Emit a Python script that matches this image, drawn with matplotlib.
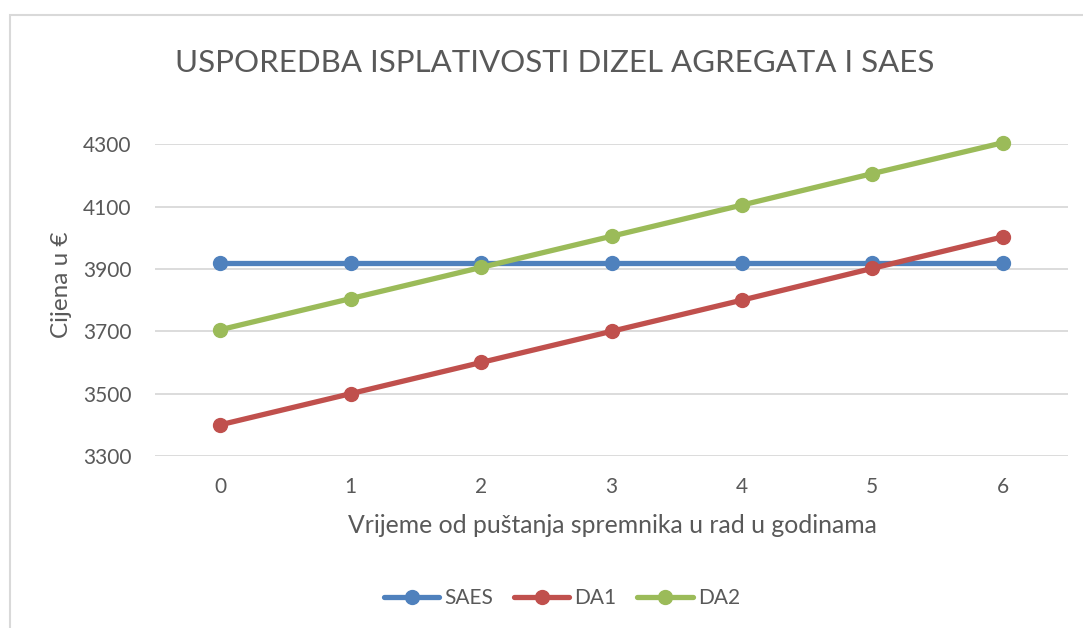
import matplotlib
matplotlib.use("Agg")
import matplotlib.pyplot as plt
from matplotlib.patches import Rectangle
from matplotlib.lines import Line2D

years = [0, 1, 2, 3, 4, 5, 6]
saes = [3918, 3918, 3918, 3918, 3918, 3918, 3918]
da1 = [3400, 3500, 3600, 3700, 3800, 3902, 4003]
da2 = [3705, 3805, 3905, 4005, 4105, 4206, 4305]
yticks = [3300, 3500, 3700, 3900, 4100, 4300]
series_names = ["SAES", "DA1", "DA2"]
colors = ["#4F81BD", "#C0504D", "#9BBB59"]

plt.rcParams['font.family'] = ['Lato', 'DejaVu Sans']
txt = "#595959"
W, H = 1083, 628
fig = plt.figure(figsize=(W / 100, H / 100), dpi=100)

# chart frame
fig.patches.append(Rectangle((10 / W, -0.1), 1.2, 1 - 15 / H + 0.1, transform=fig.transFigure,
                             fill=False, edgecolor="#D9D9D9", linewidth=1.5))

ax = fig.add_axes([155 / W, 1 - 456 / H, (1068 - 155) / W, (456 - 144.3) / H])
for vals, name, c in zip([saes, da1, da2], series_names, colors):
    ax.plot(years, vals, color=c, lw=3.8, marker='o', markersize=10, label=name,
            clip_on=False, solid_capstyle='round', zorder=3)

ax.set_xlim(-0.5, 6.5)
ax.set_ylim(3300, 4300)
ax.set_yticks(yticks)
ax.set_xticks(years)
ax.grid(axis='y', color="#D9D9D9", lw=1.3)
ax.set_axisbelow(True)
for s in ax.spines.values():
    s.set_visible(False)
ax.tick_params(axis='both', length=0, labelsize=15, labelcolor=txt)
ax.tick_params(axis='y', pad=17)
ax.tick_params(axis='x', pad=15)

fig.text(555 / W, 1 - 72 / H, "USPOREDBA ISPLATIVOSTI DIZEL AGREGATA I SAES",
         ha='center', va='baseline', fontsize=22.5, color=txt)
fig.text(612 / W, 1 - 533 / H, "Vrijeme od puštanja spremnika u rad u godinama",
         ha='center', va='baseline', fontsize=17.8, color=txt)
fig.text(61 / W, 1 - 285 / H, "Cijena u €", ha='center', va='center', rotation=90,
         fontsize=17.5, color=txt)

handles = [Line2D([0], [0], color=c, lw=3.8, marker='o', markersize=10, solid_capstyle='round')
           for c in colors]
fig.legend(handles, series_names, loc='center', bbox_to_anchor=(562 / W, 1 - 598 / H),
           ncol=3, frameon=False, fontsize=15, labelcolor=txt, handlelength=2.65,
           handletextpad=0.25, columnspacing=1.0)

fig.savefig("out.png", dpi=100)
